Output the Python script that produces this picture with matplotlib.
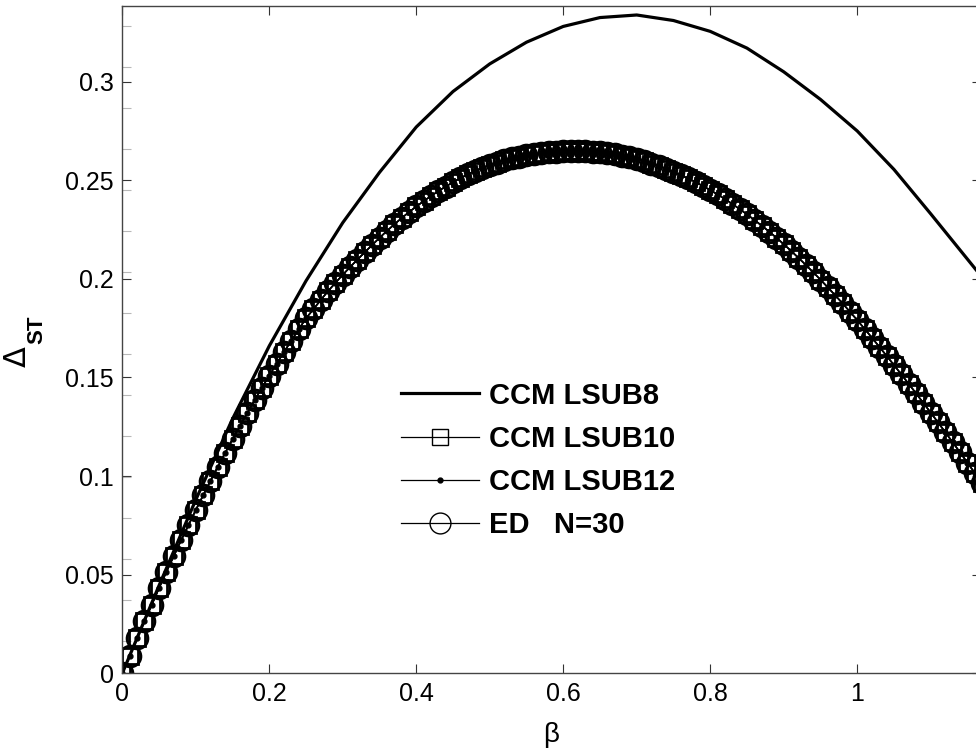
import matplotlib
matplotlib.use('Agg')
import matplotlib.pyplot as plt
from matplotlib.ticker import FixedLocator
import numpy as np

plt.rcParams['font.family'] = ['Liberation Sans', 'DejaVu Sans']

# beta grid of the exact diagonalisation / LSUB10 / LSUB12 data (step 0.01)
beta = np.round(np.arange(0, 1.175, 0.01), 2)

# ED N=30
delta_ed = [
    0.0000, 0.0089, 0.0177, 0.0263, 0.0348, 0.0432, 0.0514, 0.0594, 0.0674, 0.0751,
    0.0828, 0.0902, 0.0976, 0.1048, 0.1118, 0.1187, 0.1254, 0.1320, 0.1385, 0.1448,
    0.1510, 0.1570, 0.1629, 0.1687, 0.1744, 0.1800, 0.1846, 0.1893, 0.1938, 0.1980,
    0.2021, 0.2060, 0.2098, 0.2135, 0.2172, 0.2208, 0.2243, 0.2276, 0.2308, 0.2338,
    0.2367, 0.2394, 0.2420, 0.2445, 0.2468, 0.2490, 0.2511, 0.2530, 0.2547, 0.2563,
    0.2577, 0.2590, 0.2601, 0.2611, 0.2620, 0.2627, 0.2633, 0.2638, 0.2642, 0.2645,
    0.2647, 0.2648, 0.2648, 0.2647, 0.2645, 0.2642, 0.2638, 0.2632, 0.2625, 0.2617,
    0.2608, 0.2597, 0.2585, 0.2572, 0.2558, 0.2542, 0.2526, 0.2509, 0.2491, 0.2471,
    0.2450, 0.2428, 0.2405, 0.2380, 0.2354, 0.2327, 0.2299, 0.2270, 0.2240, 0.2209,
    0.2176, 0.2142, 0.2107, 0.2071, 0.2034, 0.1996, 0.1957, 0.1917, 0.1876, 0.1834,
    0.1791, 0.1747, 0.1702, 0.1656, 0.1610, 0.1563, 0.1516, 0.1468, 0.1420, 0.1371,
    0.1322, 0.1272, 0.1222, 0.1171, 0.1120, 0.1068, 0.1016, 0.0963,
]
# LSUB10 and LSUB12 lie on top of the ED points everywhere in the figure
delta_lsub10 = list(delta_ed)
delta_lsub12 = list(delta_ed)

# CCM LSUB8 (step 0.05)
beta_lsub8 = [0.00, 0.05, 0.10, 0.15, 0.20, 0.25, 0.30, 0.35, 0.40, 0.45, 0.50, 0.55, 0.60,
              0.65, 0.70, 0.75, 0.80, 0.85, 0.90, 0.95, 1.00, 1.05, 1.10, 1.15, 1.20]
delta_lsub8 = [0.0000, 0.0445, 0.0880, 0.1290, 0.1660, 0.1990, 0.2285, 0.2540, 0.2770,
               0.2950, 0.3090, 0.3200, 0.3280, 0.3325, 0.3338, 0.3310, 0.3255, 0.3170,
               0.3050, 0.2910, 0.2750, 0.2555, 0.2330, 0.2100, 0.1870]

labels = ['CCM LSUB8', 'CCM LSUB10', 'CCM LSUB12', 'ED   N=30']
xticks = [0, 0.2, 0.4, 0.6, 0.8, 1.0]
xticklabels = ['0', '0.2', '0.4', '0.6', '0.8', '1']
yticks = [0, 0.05, 0.1, 0.15, 0.2, 0.25, 0.3]
yticklabels = ['0', '0.05', '0.1', '0.15', '0.2', '0.25', '0.3']
# stray grey ticks visible on the left spine only
left_extra_ticks = [0.0162, 0.0370, 0.0578, 0.0786, 0.0994, 0.1202, 0.1410, 0.1618,
                    0.1826, 0.2034, 0.2242, 0.2450, 0.2658, 0.2866, 0.3076, 0.3284]

fig = plt.figure(figsize=(9.76, 7.53), dpi=100)
ax = fig.add_axes([0.1253, 0.1058, 1.005 - 0.1253, 0.9924 - 0.1058])

ax.plot(beta_lsub8, delta_lsub8, color='k', lw=2.3, label=labels[0])
ax.plot(beta, delta_lsub10, color='k', lw=1.1, marker='s', ms=11, mfc='none',
        mew=2.0, label=labels[1])
ax.plot(beta, delta_lsub12, color='k', lw=1.1, marker='.', ms=7, label=labels[2])
ax.plot(beta, delta_ed, color='k', lw=1.1, marker='o', ms=15, mfc='none',
        mew=2.0, label=labels[3])

ax.set_xlim(0, 1.1683)
ax.set_ylim(0, 0.3385)
ax.set_xticks(xticks)
ax.set_xticklabels(xticklabels)
ax.set_yticks(yticks)
ax.set_yticklabels(yticklabels)
ax.yaxis.set_minor_locator(FixedLocator(left_extra_ticks))
ax.tick_params(direction='in', length=6.5, width=0.8, labelsize=18, pad=6,
               top=True, right=True, color='#333333')
ax.tick_params(axis='y', which='minor', direction='in', length=6.5, width=0.8,
               left=True, right=False, color='#b8b8b8')
for s in ax.spines.values():
    s.set_color('#444444')
    s.set_linewidth(1.0)

ax.set_xlabel('β', fontsize=20, labelpad=12)
fig.text(17 / 976, 1 - 357 / 753, 'Δ', rotation=90, fontsize=22,
         family='DejaVu Sans', ha='center', va='center')
fig.text(37 / 976, 1 - 330 / 753, 'ST', rotation=90, fontsize=16,
         fontweight='bold', ha='center', va='center')

leg = ax.legend(loc='upper left', bbox_to_anchor=(386 / 976, 1 - 367 / 753),
                bbox_transform=fig.transFigure, frameon=False, borderpad=0,
                handlelength=2.7, handletextpad=0.34, labelspacing=0.52,
                prop={'weight': 'bold', 'size': 21})
for h in leg.legend_handles:
    h.set_markeredgewidth(1.0)
    h.set_linewidth(h.get_linewidth() if h.get_label() == labels[0] else 0.9)

fig.savefig('out.png', dpi=100)
